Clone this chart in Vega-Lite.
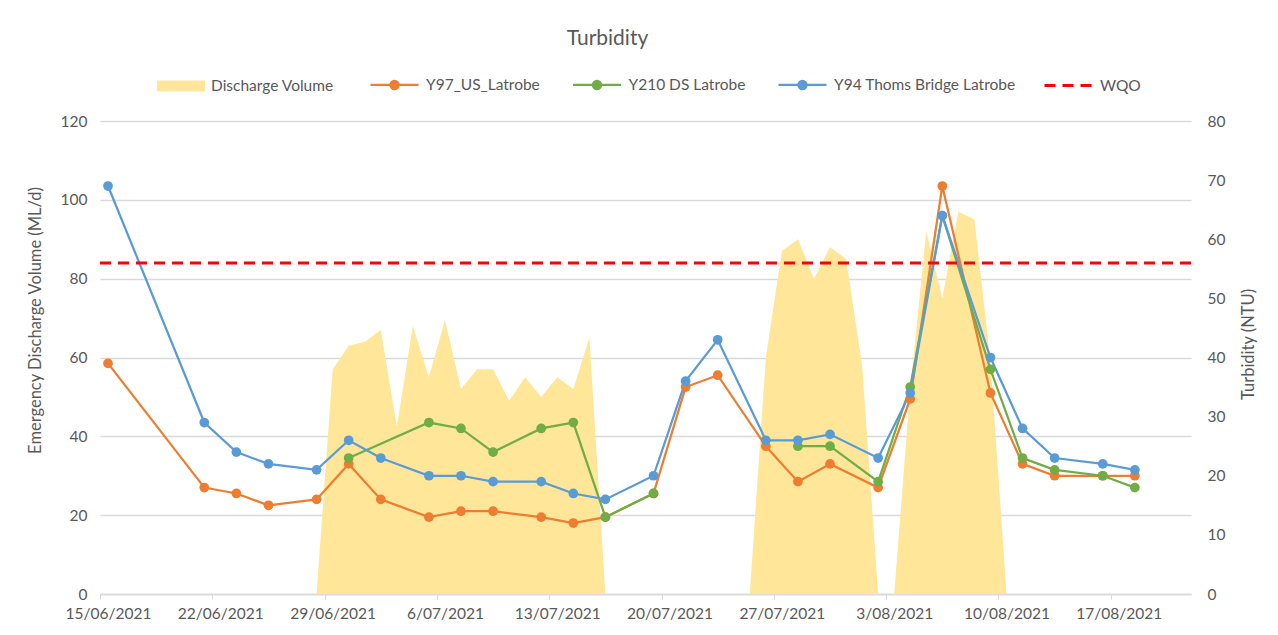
{
  "$schema": "https://vega.github.io/schema/vega-lite/v6.json",
  "autosize": {"type": "none"},
  "width": 1091,
  "height": 473,
  "padding": {"left": 100, "top": 121, "right": 87, "bottom": 41},
  "background": "white",
  "config": {
    "view": {"stroke": null},
    "font": "Lato",
    "axis": {"labelFont": "Lato", "titleFont": "Lato", "labelColor": "#595959", "titleColor": "#595959", "labelFontSize": 15.5, "titleFontSize": 16.5, "titleFontWeight": "normal"},
    "legend": {"labelFont": "Lato", "labelFontSize": 15.5, "labelColor": "#595959", "labelOffset": 6, "labelLimit": 400, "padding": 0, "title": null, "orient": "none", "direction": "horizontal", "columnPadding": 28.5, "symbolSize": 2304, "symbolOpacity": 1}
  },
  "title": {"text": "Turbidity", "font": "Lato", "fontSize": 21, "fontWeight": "normal", "color": "#595959", "anchor": "middle", "frame": "group", "dx": -38, "offset": 10},
  "datasets": {
    "discharge": [
      {"date": "2021-06-28", "series": "Discharge Volume", "volume": 0},
      {"date": "2021-06-29", "series": "Discharge Volume", "volume": 57},
      {"date": "2021-06-30", "series": "Discharge Volume", "volume": 63},
      {"date": "2021-07-01", "series": "Discharge Volume", "volume": 64},
      {"date": "2021-07-02", "series": "Discharge Volume", "volume": 67},
      {"date": "2021-07-03", "series": "Discharge Volume", "volume": 42.5},
      {"date": "2021-07-04", "series": "Discharge Volume", "volume": 68},
      {"date": "2021-07-05", "series": "Discharge Volume", "volume": 55},
      {"date": "2021-07-06", "series": "Discharge Volume", "volume": 69.5},
      {"date": "2021-07-07", "series": "Discharge Volume", "volume": 52},
      {"date": "2021-07-08", "series": "Discharge Volume", "volume": 57},
      {"date": "2021-07-09", "series": "Discharge Volume", "volume": 57},
      {"date": "2021-07-10", "series": "Discharge Volume", "volume": 49},
      {"date": "2021-07-11", "series": "Discharge Volume", "volume": 55},
      {"date": "2021-07-12", "series": "Discharge Volume", "volume": 50},
      {"date": "2021-07-13", "series": "Discharge Volume", "volume": 55},
      {"date": "2021-07-14", "series": "Discharge Volume", "volume": 52},
      {"date": "2021-07-15", "series": "Discharge Volume", "volume": 65},
      {"date": "2021-07-16", "series": "Discharge Volume", "volume": 0},
      {"date": "2021-07-17", "series": "Discharge Volume", "volume": 0},
      {"date": "2021-07-18", "series": "Discharge Volume", "volume": 0},
      {"date": "2021-07-19", "series": "Discharge Volume", "volume": 0},
      {"date": "2021-07-20", "series": "Discharge Volume", "volume": 0},
      {"date": "2021-07-21", "series": "Discharge Volume", "volume": 0},
      {"date": "2021-07-22", "series": "Discharge Volume", "volume": 0},
      {"date": "2021-07-23", "series": "Discharge Volume", "volume": 0},
      {"date": "2021-07-24", "series": "Discharge Volume", "volume": 0},
      {"date": "2021-07-25", "series": "Discharge Volume", "volume": 0},
      {"date": "2021-07-26", "series": "Discharge Volume", "volume": 60},
      {"date": "2021-07-27", "series": "Discharge Volume", "volume": 87},
      {"date": "2021-07-28", "series": "Discharge Volume", "volume": 90},
      {"date": "2021-07-29", "series": "Discharge Volume", "volume": 80},
      {"date": "2021-07-30", "series": "Discharge Volume", "volume": 88},
      {"date": "2021-07-31", "series": "Discharge Volume", "volume": 85},
      {"date": "2021-08-01", "series": "Discharge Volume", "volume": 58},
      {"date": "2021-08-02", "series": "Discharge Volume", "volume": 0},
      {"date": "2021-08-03", "series": "Discharge Volume", "volume": 0},
      {"date": "2021-08-04", "series": "Discharge Volume", "volume": 52},
      {"date": "2021-08-05", "series": "Discharge Volume", "volume": 92},
      {"date": "2021-08-06", "series": "Discharge Volume", "volume": 75},
      {"date": "2021-08-07", "series": "Discharge Volume", "volume": 97},
      {"date": "2021-08-08", "series": "Discharge Volume", "volume": 95},
      {"date": "2021-08-09", "series": "Discharge Volume", "volume": 59},
      {"date": "2021-08-10", "series": "Discharge Volume", "volume": 0}
    ],
    "turbidity": [
      {"date": "2021-06-15", "series": "Y97_US_Latrobe", "ntu": 39},
      {"date": "2021-06-21", "series": "Y97_US_Latrobe", "ntu": 18},
      {"date": "2021-06-23", "series": "Y97_US_Latrobe", "ntu": 17},
      {"date": "2021-06-25", "series": "Y97_US_Latrobe", "ntu": 15},
      {"date": "2021-06-28", "series": "Y97_US_Latrobe", "ntu": 16},
      {"date": "2021-06-30", "series": "Y97_US_Latrobe", "ntu": 22},
      {"date": "2021-07-02", "series": "Y97_US_Latrobe", "ntu": 16},
      {"date": "2021-07-05", "series": "Y97_US_Latrobe", "ntu": 13},
      {"date": "2021-07-07", "series": "Y97_US_Latrobe", "ntu": 14},
      {"date": "2021-07-09", "series": "Y97_US_Latrobe", "ntu": 14},
      {"date": "2021-07-12", "series": "Y97_US_Latrobe", "ntu": 13},
      {"date": "2021-07-14", "series": "Y97_US_Latrobe", "ntu": 12},
      {"date": "2021-07-16", "series": "Y97_US_Latrobe", "ntu": 13},
      {"date": "2021-07-19", "series": "Y97_US_Latrobe", "ntu": 17},
      {"date": "2021-07-21", "series": "Y97_US_Latrobe", "ntu": 35},
      {"date": "2021-07-23", "series": "Y97_US_Latrobe", "ntu": 37},
      {"date": "2021-07-26", "series": "Y97_US_Latrobe", "ntu": 25},
      {"date": "2021-07-28", "series": "Y97_US_Latrobe", "ntu": 19},
      {"date": "2021-07-30", "series": "Y97_US_Latrobe", "ntu": 22},
      {"date": "2021-08-02", "series": "Y97_US_Latrobe", "ntu": 18},
      {"date": "2021-08-04", "series": "Y97_US_Latrobe", "ntu": 33},
      {"date": "2021-08-06", "series": "Y97_US_Latrobe", "ntu": 69},
      {"date": "2021-08-09", "series": "Y97_US_Latrobe", "ntu": 34},
      {"date": "2021-08-11", "series": "Y97_US_Latrobe", "ntu": 22},
      {"date": "2021-08-13", "series": "Y97_US_Latrobe", "ntu": 20},
      {"date": "2021-08-16", "series": "Y97_US_Latrobe", "ntu": 20},
      {"date": "2021-08-18", "series": "Y97_US_Latrobe", "ntu": 20},
      {"date": "2021-06-30", "series": "Y210 DS Latrobe", "ntu": 23},
      {"date": "2021-07-05", "series": "Y210 DS Latrobe", "ntu": 29},
      {"date": "2021-07-07", "series": "Y210 DS Latrobe", "ntu": 28},
      {"date": "2021-07-09", "series": "Y210 DS Latrobe", "ntu": 24},
      {"date": "2021-07-12", "series": "Y210 DS Latrobe", "ntu": 28},
      {"date": "2021-07-14", "series": "Y210 DS Latrobe", "ntu": 29},
      {"date": "2021-07-16", "series": "Y210 DS Latrobe", "ntu": 13},
      {"date": "2021-07-19", "series": "Y210 DS Latrobe", "ntu": 17},
      {"date": "2021-07-26", "series": "Y210 DS Latrobe", "ntu": null},
      {"date": "2021-07-28", "series": "Y210 DS Latrobe", "ntu": 25},
      {"date": "2021-07-30", "series": "Y210 DS Latrobe", "ntu": 25},
      {"date": "2021-08-02", "series": "Y210 DS Latrobe", "ntu": 19},
      {"date": "2021-08-04", "series": "Y210 DS Latrobe", "ntu": 35},
      {"date": "2021-08-06", "series": "Y210 DS Latrobe", "ntu": 64},
      {"date": "2021-08-09", "series": "Y210 DS Latrobe", "ntu": 38},
      {"date": "2021-08-11", "series": "Y210 DS Latrobe", "ntu": 23},
      {"date": "2021-08-13", "series": "Y210 DS Latrobe", "ntu": 21},
      {"date": "2021-08-16", "series": "Y210 DS Latrobe", "ntu": 20},
      {"date": "2021-08-18", "series": "Y210 DS Latrobe", "ntu": 18},
      {"date": "2021-06-15", "series": "Y94 Thoms Bridge Latrobe", "ntu": 69},
      {"date": "2021-06-21", "series": "Y94 Thoms Bridge Latrobe", "ntu": 29},
      {"date": "2021-06-23", "series": "Y94 Thoms Bridge Latrobe", "ntu": 24},
      {"date": "2021-06-25", "series": "Y94 Thoms Bridge Latrobe", "ntu": 22},
      {"date": "2021-06-28", "series": "Y94 Thoms Bridge Latrobe", "ntu": 21},
      {"date": "2021-06-30", "series": "Y94 Thoms Bridge Latrobe", "ntu": 26},
      {"date": "2021-07-02", "series": "Y94 Thoms Bridge Latrobe", "ntu": 23},
      {"date": "2021-07-05", "series": "Y94 Thoms Bridge Latrobe", "ntu": 20},
      {"date": "2021-07-07", "series": "Y94 Thoms Bridge Latrobe", "ntu": 20},
      {"date": "2021-07-09", "series": "Y94 Thoms Bridge Latrobe", "ntu": 19},
      {"date": "2021-07-12", "series": "Y94 Thoms Bridge Latrobe", "ntu": 19},
      {"date": "2021-07-14", "series": "Y94 Thoms Bridge Latrobe", "ntu": 17},
      {"date": "2021-07-16", "series": "Y94 Thoms Bridge Latrobe", "ntu": 16},
      {"date": "2021-07-19", "series": "Y94 Thoms Bridge Latrobe", "ntu": 20},
      {"date": "2021-07-21", "series": "Y94 Thoms Bridge Latrobe", "ntu": 36},
      {"date": "2021-07-23", "series": "Y94 Thoms Bridge Latrobe", "ntu": 43},
      {"date": "2021-07-26", "series": "Y94 Thoms Bridge Latrobe", "ntu": 26},
      {"date": "2021-07-28", "series": "Y94 Thoms Bridge Latrobe", "ntu": 26},
      {"date": "2021-07-30", "series": "Y94 Thoms Bridge Latrobe", "ntu": 27},
      {"date": "2021-08-02", "series": "Y94 Thoms Bridge Latrobe", "ntu": 23},
      {"date": "2021-08-04", "series": "Y94 Thoms Bridge Latrobe", "ntu": 34},
      {"date": "2021-08-06", "series": "Y94 Thoms Bridge Latrobe", "ntu": 64},
      {"date": "2021-08-09", "series": "Y94 Thoms Bridge Latrobe", "ntu": 40},
      {"date": "2021-08-11", "series": "Y94 Thoms Bridge Latrobe", "ntu": 28},
      {"date": "2021-08-13", "series": "Y94 Thoms Bridge Latrobe", "ntu": 23},
      {"date": "2021-08-16", "series": "Y94 Thoms Bridge Latrobe", "ntu": 22},
      {"date": "2021-08-18", "series": "Y94 Thoms Bridge Latrobe", "ntu": 21}
    ],
    "wqo": [{"series": "WQO", "ntu": 56}]
  },
  "resolve": {"scale": {"y": "independent"}, "axis": {"y": "independent"}},
  "layer": [
    {
      "data": {"name": "discharge"},
      "mark": {"type": "area", "opacity": 1, "interpolate": "linear", "timeUnitBandPosition": 0.5},
      "encoding": {
        "x": {
          "field": "date", "type": "temporal", "timeUnit": "utcyearmonthdate", "bandPosition": 0.5,
          "scale": {"type": "utc", "domain": [{"year": 2021, "month": 6, "date": 15, "utc": true}, {"year": 2021, "month": 8, "date": 22, "utc": true}]},
          "axis": {
            "title": null,
            "values": [
              {"year": 2021, "month": 6, "date": 15, "utc": true},
              {"year": 2021, "month": 6, "date": 22, "utc": true},
              {"year": 2021, "month": 6, "date": 29, "utc": true},
              {"year": 2021, "month": 7, "date": 6, "utc": true},
              {"year": 2021, "month": 7, "date": 13, "utc": true},
              {"year": 2021, "month": 7, "date": 20, "utc": true},
              {"year": 2021, "month": 7, "date": 27, "utc": true},
              {"year": 2021, "month": 8, "date": 3, "utc": true},
              {"year": 2021, "month": 8, "date": 10, "utc": true},
              {"year": 2021, "month": 8, "date": 17, "utc": true}
            ],
            "labelExpr": "utcFormat(datum.value, '%-d/%m/%Y')",
            "grid": false, "domainColor": "#D9D9D9", "domainWidth": 1.3, "tickColor": "#D9D9D9", "tickSize": 5,
            "labelOffset": 8, "labelPadding": 7, "labelFlush": false, "labelOverlap": false
          }
        },
        "y": {
          "field": "volume", "type": "quantitative", "stack": null,
          "scale": {"domain": [0, 120], "nice": false},
          "axis": {
            "orient": "left", "title": "Emergency Discharge Volume (ML/d)", "values": [0, 20, 40, 60, 80, 100, 120],
            "grid": true, "gridColor": "#D9D9D9", "gridWidth": 1.3, "domain": false, "ticks": false, "tickSize": 0,
            "labelPadding": 13, "titleAngle": 270, "titleX": -65, "titleY": 199, "titleAlign": "center", "titleBaseline": "middle"
          }
        },
        "fill": {
          "field": "series", "type": "nominal",
          "scale": {"domain": ["Discharge Volume"], "range": ["#FFE699"]},
          "legend": {
            "legendX": 57, "legendY": -59,
            "symbolType": "M-1,-0.23H1V0.23H-1Z", "symbolStrokeWidth": 0, "symbolFillColor": "#FFE699"
          }
        }
      }
    },
    {
      "layer": [
        {
          "data": {"name": "turbidity"},
          "mark": {"type": "line", "strokeWidth": 2.25, "invalid": "break-paths-filter-domains", "point": {"size": 95, "filled": true, "opacity": 1}},
          "encoding": {
            "x": {"field": "date", "type": "temporal", "timeUnit": "utcyearmonthdate", "bandPosition": 0.5},
            "y": {
              "field": "ntu", "type": "quantitative",
              "scale": {"domain": [0, 80], "nice": false},
              "axis": {
                "orient": "right", "title": "Turbidity (NTU)", "values": [0, 10, 20, 30, 40, 50, 60, 70, 80],
                "grid": false, "domain": false, "ticks": false, "tickSize": 0, "labelPadding": 16,
                "titleAngle": 270, "titleX": 57, "titleY": 223, "titleAlign": "center", "titleBaseline": "middle"
              }
            },
            "color": {
              "field": "series", "type": "nominal",
              "scale": {
                "domain": ["Y97_US_Latrobe", "Y210 DS Latrobe", "Y94 Thoms Bridge Latrobe"],
                "range": ["#ED7D31", "#70AD47", "#5B9BD5"]
              },
              "legend": {
                "legendX": 269, "legendY": -62,
                "symbolType": "M-1,0H1M-0.17,0A0.17,0.17 0 1,1 0.17,0A0.17,0.17 0 1,1 -0.17,0M-0.12,0A0.12,0.12 0 1,1 0.12,0A0.12,0.12 0 1,1 -0.12,0M-0.07,0A0.07,0.07 0 1,1 0.07,0A0.07,0.07 0 1,1 -0.07,0M-0.025,0A0.025,0.025 0 1,1 0.025,0A0.025,0.025 0 1,1 -0.025,0",
                "symbolStrokeWidth": 2.25
              }
            }
          }
        },
        {
          "data": {"name": "wqo"},
          "mark": {"type": "rule", "strokeWidth": 3, "strokeDash": [11, 7]},
          "encoding": {
            "y": {"field": "ntu", "type": "quantitative"},
            "stroke": {
              "field": "series", "type": "nominal",
              "scale": {"domain": ["WQO"], "range": ["#FF0000"]},
              "legend": {
                "legendX": 943, "legendY": -61,
                "symbolType": "M-1,0H1", "symbolStrokeWidth": 3, "symbolDash": [11, 7], "symbolStrokeColor": "#FF0000"
              }
            }
          }
        }
      ]
    }
  ]
}
